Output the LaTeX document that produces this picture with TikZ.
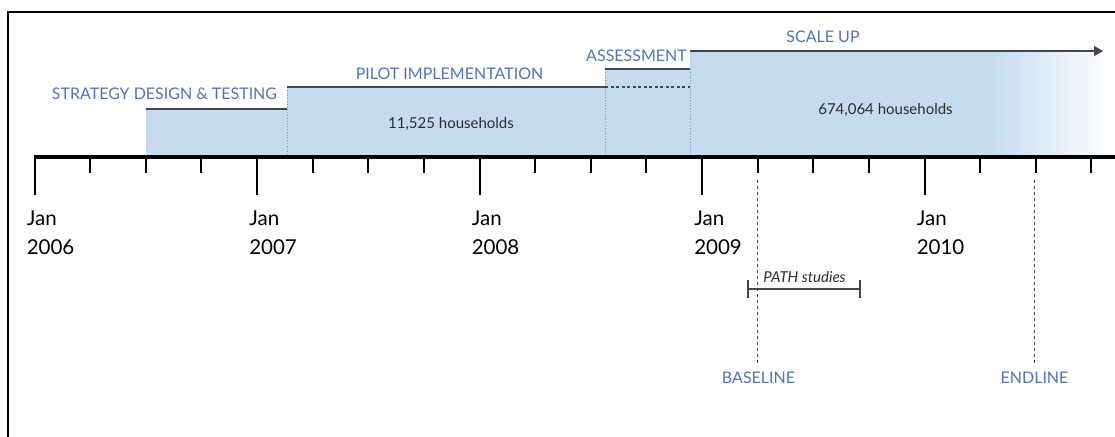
\documentclass[tikz,border=0pt]{standalone}
\usepackage{fontspec}
\setmainfont{Lato}
\usetikzlibrary{arrows.meta}
\definecolor{boxblue}{RGB}{198,218,240}
\definecolor{lblblue}{RGB}{84,114,180}
\definecolor{txtdark}{RGB}{45,45,45}
\definecolor{linegray}{RGB}{70,70,70}
\definecolor{sepblue}{RGB}{120,150,200}
\begin{document}
\begin{tikzpicture}[x=1pt,y=-1pt,
  phase/.style={font=\fontsize{16}{19}\selectfont, text=lblblue, inner sep=0pt, anchor=base},
  hh/.style={font=\fontsize{15}{18}\selectfont, text=txtdark, inner sep=0pt, anchor=base},
  yr/.style={font=\fontsize{20.5}{26}\selectfont, text=black, inner sep=0pt, anchor=base west},
  topline/.style={draw=linegray, line width=1.2pt},
  sepline/.style={draw=sepblue, dotted, line width=0.8pt},
  survey/.style={draw=linegray, dashed, dash pattern=on 3pt off 3pt, line width=1pt},
  tickline/.style={draw=black, line width=2pt},
]
\useasboundingbox (0,0) rectangle (1115,436);
\clip (0,0) rectangle (1115,436);

% frame
\draw[line width=2.2pt] (8,12) rectangle (1140,460);

% boxes
\fill[boxblue] (145.7,109) rectangle (287.3,155);
\fill[boxblue] (287.3,87) rectangle (605,155);
\fill[boxblue] (605,69) rectangle (690,155);
\fill[boxblue] (690,51) rectangle (990,155);
\shade[left color=boxblue,right color=white] (989.5,51) rectangle (1112,155);

% coordinates
\coordinate (s1) at (145.7,109); \coordinate (s2) at (287.3,109);
\coordinate (p1) at (287.3,87);  \coordinate (p2) at (605,87);
\coordinate (pb) at (287.3,155);
\coordinate (a1) at (605,69);    \coordinate (a2) at (690,69);
\coordinate (ab1) at (605,155);  \coordinate (ab2) at (690,155);
\coordinate (ad) at (690,87);
\coordinate (u1) at (690,51);    \coordinate (u2) at (1102,51);

% separators
\draw[sepline] (p1) -- (pb);
\draw[sepline] (a1) -- (ab1);
\draw[sepline] (a2) -- (ab2);

% top lines
\draw[topline] (s1) -- (s2);
\draw[topline] (p1) -- (p2);
\draw[topline] (a1) -- (a2);
\draw[draw=linegray, line width=1.2pt, dash pattern=on 3pt off 2.5pt] (p2) -- (ad);
\draw[topline, -{Triangle[length=9pt,width=10pt]}, shorten >=-1pt] (u1) -- (u2);

% phase labels
\node[phase] (lstrat) at (164.5,99) {STRATEGY DESIGN \& TESTING};
\node[phase] (lpilot) at (449.5,79) {PILOT IMPLEMENTATION};
\node[phase] (lassess) at (636.5,62) {ASSESSMENT};
\node[phase] (lscale) at (823,42) {SCALE UP};
\node[hh] (hpilot) at (451,128) {11,525 households};
\node[hh] (hscale) at (885.5,114) {674,064 households};

% axis
\coordinate (ax1) at (33.6,157); \coordinate (ax2) at (1115,157);
\draw[line width=4pt] (ax1) -- (ax2);
\foreach \i in {0,...,19}{
  \pgfmathsetmacro{\xx}{34.6+\i*55.625}
  \pgfmathtruncatemacro{\m}{mod(\i,4)}
  \ifnum\m=0
    \draw[tickline] (\xx,157) -- (\xx,195);
  \else
    \draw[tickline] (\xx,157) -- (\xx,173);
  \fi
}

% year labels
\node[yr] (j06) at (26.6,225) {Jan}; \node[yr] (y06) at (26.6,254) {2006};
\node[yr] (j07) at (249.1,225) {Jan}; \node[yr] (y07) at (249.1,254) {2007};
\node[yr] (j08) at (471.6,225) {Jan}; \node[yr] (y08) at (471.6,254) {2008};
\node[yr] (j09) at (694.1,225) {Jan}; \node[yr] (y09) at (694.1,254) {2009};
\node[yr] (j10) at (916.6,225) {Jan}; \node[yr] (y10) at (916.6,254) {2010};

% survey lines
\coordinate (b1) at (757.7,180); \coordinate (b2) at (757.7,364);
\coordinate (e1) at (1034.5,180); \coordinate (e2) at (1034.5,364);
\draw[survey] (b1) -- (b2);
\draw[survey] (e1) -- (e2);
\node[phase] (lbase) at (758.5,383) {BASELINE};
\node[phase] (lend) at (1034.5,383) {ENDLINE};

% PATH studies bracket
\coordinate (pa) at (748,289); \coordinate (pz) at (860,289);
\draw[draw=linegray, line width=1.2pt] (pa) -- (pz);
\draw[draw=linegray, line width=1.2pt] (748,280) -- (748,298);
\draw[draw=linegray, line width=1.2pt] (860,280) -- (860,298);
\node[font=\fontsize{15}{18}\selectfont\itshape, text=txtdark, inner sep=0pt, anchor=base] (lpath) at (804.5,282) {PATH studies};
\end{tikzpicture}
\end{document}
